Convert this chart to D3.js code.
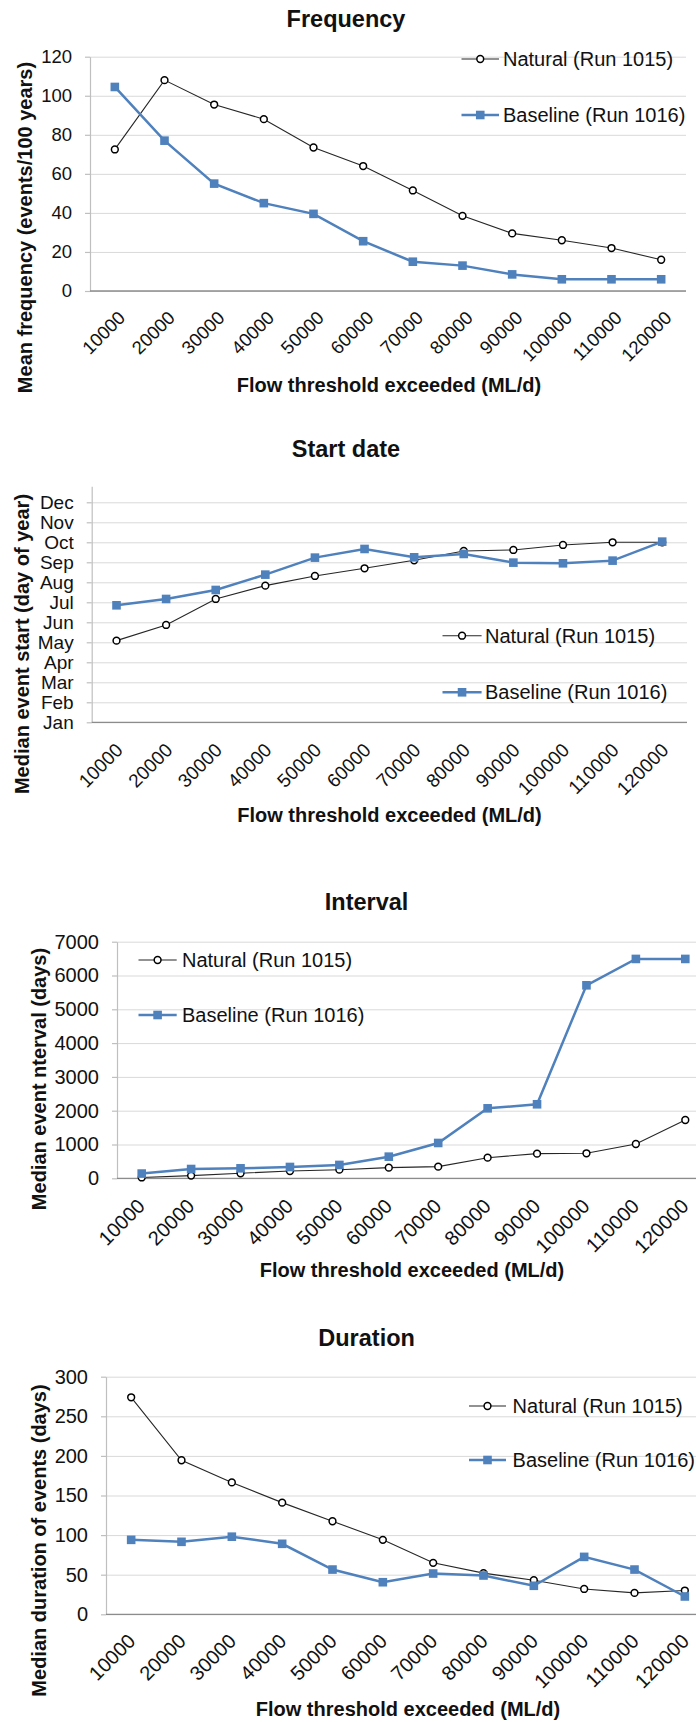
<!DOCTYPE html>
<html>
<head>
<meta charset="utf-8">
<script src="https://cdn.jsdelivr.net/npm/d3@7"></script>
<style>
  body { margin: 0; background: #fff; }
  svg { display: block; font-family: "Liberation Sans", Arial, sans-serif; }
</style>
</head>
<body>
<svg id="chart"></svg>
<script>
// Data arrays
const thresholds = [10000, 20000, 30000, 40000, 50000, 60000, 70000, 80000, 90000, 100000, 110000, 120000];
const seriesNames = ["Natural (Run 1015)", "Baseline (Run 1016)"];

// Frequency (events/100 years)
const freqNatural  = [72.5, 108, 95.5, 88, 73.5, 64, 51.5, 38.5, 29.5, 26, 22, 16];
const freqBaseline = [104.5, 77, 55, 45, 39.5, 25.5, 15, 13, 8.5, 6, 6, 6];
const freqTicks = [0, 20, 40, 60, 80, 100, 120];

// Start date (day of year)
const startNatural  = [122.5, 146, 185, 205, 219.5, 231, 243, 257, 258.5, 266, 270, 270];
const startBaseline = [175.5, 185, 198.5, 221.5, 247, 260, 247.5, 252.5, 239.5, 238.5, 242.5, 271];
const monthTicks = [0, 30, 60, 90, 120, 150, 180, 210, 240, 270, 300, 330];
const monthLabels = ["Jan", "Feb", "Mar", "Apr", "May", "Jun", "Jul", "Aug", "Sep", "Oct", "Nov", "Dec"];

// Interval (days)
const intNatural  = [25, 80, 150, 215, 255, 315, 345, 610, 730, 740, 1015, 1725];
const intBaseline = [140, 275, 295, 335, 395, 640, 1045, 2070, 2190, 5710, 6490, 6490];
const intTicks = [0, 1000, 2000, 3000, 4000, 5000, 6000, 7000];

// Duration (days)
const durNatural  = [274, 194.5, 166.5, 141, 117.5, 94, 65, 52, 43, 32, 27, 30];
const durBaseline = [94, 91.5, 98, 89, 56.5, 40.5, 51.5, 49, 36, 72.5, 56.5, 22.5];
const durTicks = [0, 50, 100, 150, 200, 250, 300];

const W = 696, H = 1722;
const blue = "#4f81bd";
const dark = "#262626";

const svg = d3.select("#chart")
    .attr("width", W)
    .attr("height", H);

function drawPanel(p) {
  const g = svg.append("g");

  const x = d3.scalePoint()
      .domain(thresholds)
      .range([p.left, p.right])
      .padding(0.5);

  const y = d3.scaleLinear()
      .domain(p.yDomain)
      .range([p.bottom, p.bottom - (p.yDomain[1] - p.yDomain[0]) * p.pxPerUnit]);

  // gridlines
  g.append("g")
      .attr("transform", `translate(${p.left},0)`)
      .call(d3.axisLeft(y).tickValues(p.ticks).tickSize(-(p.right - p.left)).tickFormat(""))
      .call(a => a.select(".domain").remove())
      .selectAll("line")
      .attr("stroke", "#d9d9d9")
      .attr("stroke-width", 1);

  // y axis
  const yAxis = g.append("g")
      .attr("transform", `translate(${p.left},0)`)
      .call(d3.axisLeft(y).tickValues(p.ticks).tickSize(5).tickSizeOuter(0).tickPadding(13)
        .tickFormat(p.tickFormat || d3.format("d")));
  yAxis.select(".domain").attr("stroke", "#bfbfbf").attr("stroke-width", 1.2);
  yAxis.selectAll(".tick line").attr("stroke", "#bfbfbf").attr("stroke-width", 1.2);
  yAxis.selectAll(".tick text")
      .style("font-size", p.tickFont + "px")
      .style("fill", "#111");

  // x axis
  const xAxis = g.append("g")
      .attr("transform", `translate(0,${p.bottom})`)
      .call(d3.axisBottom(x).tickSize(0).tickSizeOuter(0));
  xAxis.select(".domain")
      .attr("d", `M${p.left},0H${p.right}`)
      .attr("stroke", "#8c8c8c")
      .attr("stroke-width", 1.3);
  xAxis.selectAll(".tick text")
      .attr("x", 0).attr("y", 0).attr("dy", 0)
      .attr("transform", `translate(${p.lx},${p.ly}) rotate(-45)`)
      .style("text-anchor", "end")
      .style("font-size", p.tickFont + "px")
      .style("fill", "#111");

  const line = d3.line()
      .x((d, i) => x(thresholds[i]))
      .y(d => y(d));

  // Natural series
  g.append("path")
      .datum(p.natural)
      .attr("d", line)
      .attr("fill", "none")
      .attr("stroke", dark)
      .attr("stroke-width", 1.1);
  g.selectAll(".nat")
      .data(p.natural)
    .enter().append("circle")
      .attr("cx", (d, i) => x(thresholds[i]))
      .attr("cy", d => y(d))
      .attr("r", 3.4)
      .attr("fill", "#fff")
      .attr("stroke", "#000")
      .attr("stroke-width", 1.5);

  // Baseline series
  g.append("path")
      .datum(p.baseline)
      .attr("d", line)
      .attr("fill", "none")
      .attr("stroke", blue)
      .attr("stroke-width", 2.5);
  g.selectAll(".base")
      .data(p.baseline)
    .enter().append("rect")
      .attr("x", (d, i) => x(thresholds[i]) - 4.3)
      .attr("y", d => y(d) - 4.3)
      .attr("width", 8.6)
      .attr("height", 8.6)
      .attr("fill", blue);

  // Legend
  const leg = g.append("g");
  const l1 = leg.append("g").attr("transform", `translate(0,${p.legY[0]})`);
  l1.append("line").attr("x1", p.legX[0]).attr("x2", p.legX[1])
      .attr("stroke", dark).attr("stroke-width", 1.1);
  l1.append("circle").attr("cx", (p.legX[0] + p.legX[1]) / 2).attr("r", 3.4)
      .attr("fill", "#fff").attr("stroke", "#000").attr("stroke-width", 1.5);
  l1.append("text").attr("x", p.legX[2]).attr("dy", "0.35em")
      .style("font-size", "20px").style("fill", "#111").text(seriesNames[0]);

  const l2 = leg.append("g").attr("transform", `translate(0,${p.legY[1]})`);
  l2.append("line").attr("x1", p.legX[0]).attr("x2", p.legX[1])
      .attr("stroke", blue).attr("stroke-width", 2.5);
  l2.append("rect").attr("x", (p.legX[0] + p.legX[1]) / 2 - 4.3).attr("y", -4.3)
      .attr("width", 8.6).attr("height", 8.6).attr("fill", blue);
  l2.append("text").attr("x", p.legX[2]).attr("dy", "0.35em")
      .style("font-size", "20px").style("fill", "#111").text(seriesNames[1]);

  // Titles
  g.append("text")
      .attr("x", p.title[0]).attr("y", p.title[1]).attr("dy", "0.35em")
      .attr("text-anchor", "middle")
      .style("font-size", "23.5px").style("font-weight", "bold").style("fill", "#111")
      .text(p.titleText);

  g.append("text")
      .attr("x", p.xTitle[0]).attr("y", p.xTitle[1]).attr("dy", "0.35em")
      .attr("text-anchor", "middle")
      .style("font-size", "20px").style("font-weight", "bold").style("fill", "#111")
      .text("Flow threshold exceeded (ML/d)");

  g.append("text")
      .attr("transform", `translate(${p.yTitle[0]},${p.yTitle[1]}) rotate(-90)`)
      .attr("dy", "0.35em")
      .attr("text-anchor", "middle")
      .style("font-size", "20px").style("font-weight", "bold").style("fill", "#111")
      .text(p.yTitleText);
}

drawPanel({
  titleText: "Frequency", yTitleText: "Mean frequency (events/100 years)",
  natural: freqNatural, baseline: freqBaseline, ticks: freqTicks,
  yDomain: [0, 120], left: 90, right: 686, bottom: 291, pxPerUnit: 234.3 / 120,
  tickFont: 18.5, lx: 11, ly: 28,
  title: [346, 18.5], xTitle: [389, 385], yTitle: [24.5, 227.5],
  legX: [461.5, 499, 503], legY: [59, 115]
});

drawPanel({
  titleText: "Start date", yTitleText: "Median event start (day of year)",
  natural: startNatural, baseline: startBaseline, ticks: monthTicks,
  tickFormat: (d, i) => monthLabels[i],
  yDomain: [0, 354], left: 91.7, right: 687, bottom: 722.3, pxPerUnit: 20 / 30,
  tickFont: 19, lx: 7, ly: 29,
  title: [346, 448.5], xTitle: [389.5, 815], yTitle: [22.2, 644],
  legX: [442.5, 481.6, 485], legY: [635.7, 692.3]
});

drawPanel({
  titleText: "Interval", yTitleText: "Median event nterval (days)",
  natural: intNatural, baseline: intBaseline, ticks: intTicks,
  yDomain: [0, 7000], left: 117, right: 710, bottom: 1178.3, pxPerUnit: 236.6 / 7000,
  tickFont: 20, lx: 4, ly: 29,
  title: [366.6, 901.7], xTitle: [412, 1270], yTitle: [39, 1079],
  legX: [138.5, 176.7, 182], legY: [960, 1015]
});

drawPanel({
  titleText: "Duration", yTitleText: "Median duration of events (days)",
  natural: durNatural, baseline: durBaseline, ticks: durTicks,
  yDomain: [0, 300], left: 106, right: 710, bottom: 1614.3, pxPerUnit: 237.6 / 300,
  tickFont: 20, lx: 5, ly: 28,
  title: [366.6, 1337.7], xTitle: [408, 1709], yTitle: [39, 1540.5],
  legX: [469, 506, 512.6], legY: [1406, 1460]
});
</script>
</body>
</html>
